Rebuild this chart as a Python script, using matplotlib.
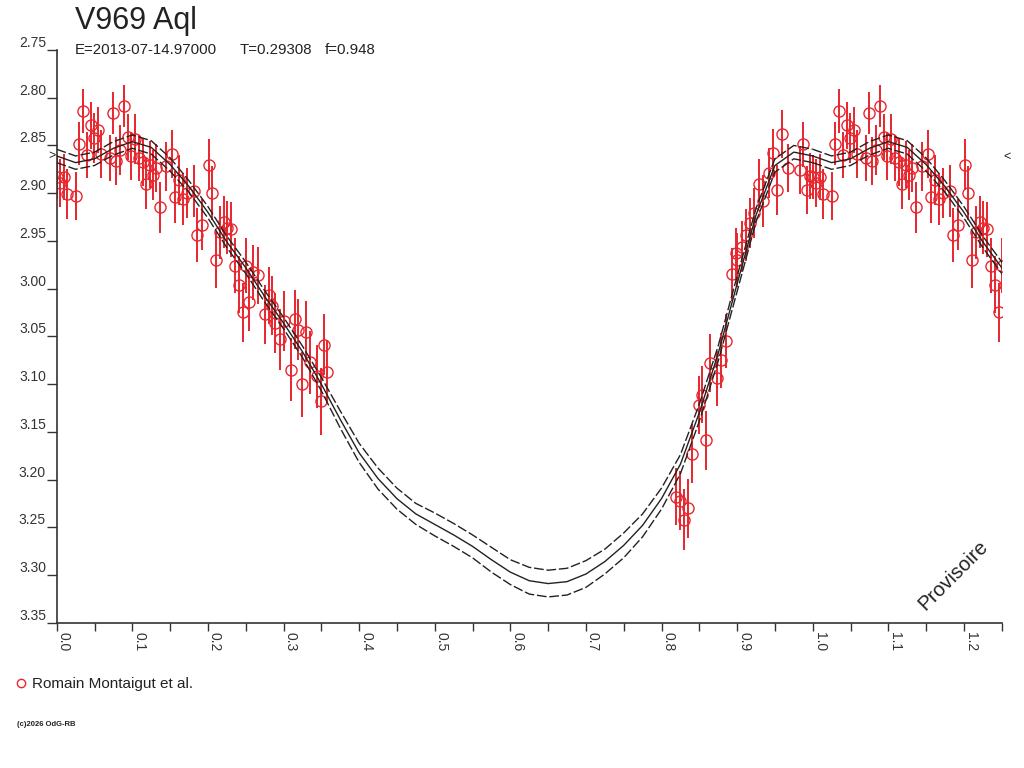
import numpy as np
import matplotlib
matplotlib.use("Agg")
import matplotlib.pyplot as plt
from matplotlib.ticker import FixedLocator

plt.rcParams['font.family'] = ['Liberation Sans', 'DejaVu Sans']

# Datos (fase, magnitud, error)
star_name = "V969 Aql"
info_epoch = "E=2013-07-14.97000"
info_period = "T=0.29308"
info_f = "f=0.948"
observer = "Romain Montaigut et al."

phase_obs = [0.000, 0.005, 0.010, 0.014, 0.026, 0.029, 0.035, 0.040, 0.045, 0.049,
             0.054, 0.059, 0.070, 0.074, 0.078, 0.084, 0.089, 0.094, 0.098, 0.103,
             0.109, 0.114, 0.118, 0.123, 0.128, 0.132, 0.137, 0.145, 0.153, 0.157,
             0.162, 0.167, 0.173, 0.182, 0.186, 0.192, 0.201, 0.206, 0.211, 0.216,
             0.221, 0.225, 0.231, 0.236, 0.241, 0.246, 0.250, 0.255, 0.260, 0.266,
             0.275, 0.281, 0.285, 0.289, 0.295, 0.300, 0.310, 0.315, 0.319, 0.325,
             0.330, 0.335, 0.344, 0.349, 0.354, 0.358,
             0.819, 0.825, 0.830, 0.835, 0.840, 0.849, 0.854, 0.859, 0.864, 0.874,
             0.879, 0.885, 0.893, 0.898, 0.900, 0.907, 0.912, 0.917, 0.923, 0.929,
             0.934, 0.942, 0.948, 0.953, 0.959, 0.967, 0.983, 0.987, 0.993, 0.996]
mag_obs = [2.883, 2.889, 2.883, 2.901, 2.903, 2.848, 2.814, 2.860, 2.829, 2.842,
           2.834, 2.859, 2.863, 2.816, 2.866, 2.855, 2.809, 2.841, 2.861, 2.843,
           2.863, 2.867, 2.890, 2.870, 2.881, 2.874, 2.915, 2.872, 2.859, 2.904,
           2.886, 2.906, 2.900, 2.898, 2.944, 2.933, 2.870, 2.900, 2.970, 2.941,
           2.930, 2.936, 2.938, 2.976, 2.996, 3.025, 2.976, 3.014, 2.983, 2.986,
           3.027, 3.007, 3.018, 3.036, 3.053, 3.034, 3.085, 3.032, 3.043, 3.100,
           3.045, 3.077, 3.092, 3.118, 3.059, 3.087,
           3.218, 3.222, 3.242, 3.230, 3.173, 3.122, 3.111, 3.159, 3.078, 3.094,
           3.075, 3.055, 2.985, 2.963, 2.970, 2.956, 2.944, 2.931, 2.921, 2.890,
           2.908, 2.879, 2.858, 2.897, 2.838, 2.874, 2.876, 2.849, 2.897, 2.882]
err_obs = [0.023, 0.025, 0.024, 0.026, 0.025, 0.023, 0.023, 0.024, 0.025, 0.026,
           0.024, 0.025, 0.024, 0.022, 0.025, 0.026, 0.022, 0.024, 0.025, 0.026,
           0.024, 0.025, 0.027, 0.025, 0.026, 0.025, 0.027, 0.026, 0.025, 0.027,
           0.026, 0.027, 0.026, 0.027, 0.028, 0.027, 0.027, 0.028, 0.029, 0.028,
           0.027, 0.028, 0.029, 0.029, 0.030, 0.031, 0.029, 0.030, 0.029, 0.030,
           0.031, 0.030, 0.031, 0.031, 0.032, 0.031, 0.033, 0.031, 0.032, 0.034,
           0.032, 0.033, 0.033, 0.035, 0.032, 0.033,
           0.030, 0.031, 0.032, 0.031, 0.031, 0.030, 0.030, 0.031, 0.030, 0.029,
           0.029, 0.028, 0.028, 0.027, 0.028, 0.027, 0.027, 0.026, 0.026, 0.026,
           0.027, 0.026, 0.025, 0.026, 0.025, 0.025, 0.025, 0.024, 0.025, 0.024]

# curva modelo (linea continua) y su incertidumbre (lineas de trazos)
phase_mod = [0.000, 0.025, 0.050, 0.075, 0.100, 0.125, 0.150, 0.175, 0.200, 0.225,
             0.250, 0.275, 0.300, 0.325, 0.350, 0.375, 0.400, 0.425, 0.450, 0.475,
             0.500, 0.525, 0.550, 0.575, 0.600, 0.625, 0.650, 0.675, 0.700, 0.725,
             0.750, 0.775, 0.800, 0.825, 0.850, 0.875, 0.900, 0.925, 0.950, 0.975,
             1.000]
mag_mod = [2.861, 2.868, 2.864, 2.853, 2.846, 2.852, 2.870, 2.893, 2.920, 2.951,
           2.978, 3.008, 3.036, 3.066, 3.100, 3.137, 3.172, 3.199, 3.220, 3.236,
           3.247, 3.258, 3.270, 3.284, 3.297, 3.306, 3.309, 3.307, 3.299, 3.286,
           3.269, 3.248, 3.220, 3.184, 3.130, 3.068, 2.995, 2.923, 2.871, 2.857,
           2.861]
err_mod = [0.007, 0.007, 0.007, 0.007, 0.007, 0.007, 0.007, 0.006, 0.006, 0.006,
           0.006, 0.006, 0.006, 0.006, 0.007, 0.009, 0.010, 0.011, 0.011, 0.011,
           0.012, 0.012, 0.012, 0.013, 0.013, 0.014, 0.014, 0.014, 0.014, 0.013,
           0.013, 0.012, 0.011, 0.010, 0.009, 0.008, 0.008, 0.007, 0.007, 0.007,
           0.007]

rojo = '#e8262d'
negro = '#222222'
W, H = 1024, 768


def px(x, y):
    # pixeles de la imagen -> coordenadas de figura
    return x / W, 1 - y / H


fig = plt.figure(figsize=(W / 100, H / 100), dpi=100)
ax = fig.add_axes([56.7 / W, 1 - 622.7 / H, 945 / W, 572.7 / H])

# puntos repetidos una vez (fase + 1) hasta 1.25
ph = np.array(phase_obs)
mg = np.array(mag_obs)
er = np.array(err_obs)
rep = ph + 1 <= 1.25
x_all = np.concatenate([ph, ph[rep] + 1])
y_all = np.concatenate([mg, mg[rep]])
e_all = np.concatenate([er, er[rep]])

ax.errorbar(x_all, y_all, yerr=e_all, fmt='o', ms=8, mfc='none', mec=rojo, mew=1,
            ecolor=rojo, elinewidth=1.4, capsize=0, zorder=2)

pm = np.array(phase_mod)
mm = np.array(mag_mod)
em = np.array(err_mod)
for off in (0, 1):
    ax.plot(pm + off, mm, color=negro, lw=1, zorder=3)
    ax.plot(pm + off, mm - em, color=negro, lw=1, dashes=(7, 2), zorder=3)
    ax.plot(pm + off, mm + em, color=negro, lw=1, dashes=(7, 2), zorder=3)

ax.set_xlim(0, 1.25)
ax.set_ylim(3.35, 2.75)

for s in ['top', 'right']:
    ax.spines[s].set_visible(False)
for s in ['left', 'bottom']:
    ax.spines[s].set_color('#333333')
    ax.spines[s].set_linewidth(1.2)

xt = np.round(np.arange(0, 1.21, 0.1), 2)
ax.xaxis.set_major_locator(FixedLocator(xt))
ax.xaxis.set_minor_locator(FixedLocator(np.round(np.arange(0.05, 1.26, 0.1), 2)))
ax.set_xticklabels(['%.1f' % v for v in xt])
ax.tick_params(axis='x', which='both', direction='out', length=5.8, width=1,
               colors='#333333', labelsize=10, pad=1)
for lab in ax.get_xticklabels():
    lab.set_rotation(-90)
    lab.set_ha('left')
    lab.set_va('top')

yt = np.round(np.arange(2.75, 3.351, 0.05), 2)
ax.set_yticks(yt)
ax.set_yticklabels(['%.2f' % v for v in yt])
ax.tick_params(axis='y', direction='out', length=7.2, width=1, colors='#333333',
               labelsize=10, pad=0.5)
for lab in ax.get_yticklabels():
    lab.set_va('bottom')

# textos
fig.text(*px(75, 29.5), star_name, fontsize=22, color=negro, va='baseline')
fig.text(*px(75, 53.5), info_epoch, fontsize=10.8, color=negro, va='baseline')
fig.text(*px(240, 53.5), info_period, fontsize=10.8, color=negro, va='baseline')
fig.text(*px(325, 53.5), info_f, fontsize=10.8, color=negro, va='baseline')

fig.text(*px(953, 575), "Provisoire", fontsize=14.5, color=negro, rotation=45,
         ha='center', va='center', rotation_mode='anchor')

fig.text(*px(52, 156), ">", fontsize=9, color=negro, ha='center', va='center')
fig.text(*px(1007, 157), "<", fontsize=9, color=negro, ha='center', va='center')

# leyenda
lx, ly = px(21, 683)
ax.plot([lx], [ly], 'o', ms=6, mfc='none', mec=rojo, mew=1,
        transform=fig.transFigure, clip_on=False)
fig.text(*px(32, 688), observer, fontsize=11, color=negro, va='baseline')

fig.text(*px(17, 725), "(c)2026 OdG-RB", fontsize=5.5, color=negro,
         fontweight='bold', va='center')

fig.savefig('out.png', dpi=100)
